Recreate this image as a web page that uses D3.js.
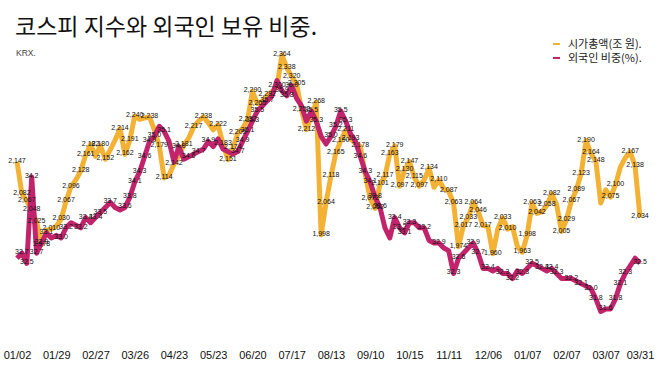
<!DOCTYPE html>
<html>
<head>
<meta charset="utf-8">
<script src="https://cdn.jsdelivr.net/npm/d3@7"></script>
<style>
  body { margin: 0; background: #fff; }
  .tick text { font-family: "Liberation Sans", Arial, sans-serif; font-size: 11px; fill: #111; }
  .lbl { font-family: "Liberation Sans", Arial, sans-serif; font-size: 7px; fill: #111; text-anchor: middle; }
</style>
</head>
<body>
<div class="chart"></div>
<script>
// tick labels (every 8th point)
var tickLabels = ["01/02", "01/29", "02/27", "03/26", "04/23", "05/23", "06/20", "07/17", "08/13",
  "09/10", "10/15", "11/11", "12/06", "01/07", "02/07", "03/07", "03/31"];
var tickIdx = [0, 8, 16, 24, 32, 40, 48, 56, 64, 72, 80, 88, 96, 104, 112, 120, 127];

// 시가총액 (조 원)
var marketCap = [
  2147, 2082, 2067, 2048, 2025, 1978, 2008, 2010, 2016, 2030,
  2067, 2096, 2110, 2128, 2161, 2182, 2158, 2180, 2152, 2171,
  2191, 2214, 2162, 2191, 2240, 2233, 2236, 2238, 2212, 2179,
  2114, 2120, 2142, 2160, 2181, 2195, 2217, 2230, 2238, 2226,
  2212, 2222, 2183, 2151, 2174, 2205, 2215, 2232, 2290, 2265,
  2270, 2282, 2290, 2300, 2364, 2338, 2320, 2305, 2252, 2212,
  2240, 2268, 1998, 2064, 2118, 2165, 2190, 2211, 2193, 2185,
  2178, 2120, 2072, 2052, 2101, 2117, 2163, 2179, 2097, 2130,
  2147, 2115, 2097, 2110, 2134, 2095, 2110, 2092, 2087, 2063,
  1974, 2017, 2033, 2064, 2046, 2017, 2015, 1960, 2010, 2033,
  2010, 2015, 1975, 1963, 1998, 2063, 2042, 2045, 2058, 2082,
  2060, 2005, 2029, 2067, 2089, 2123, 2190, 2164, 2148, 2063,
  2090, 2075, 2100, 2136, 2155, 2167, 2138, 2034
];

// 외국인 비중 (%)
var foreignShare = [
  32.6, 32.7, 32.5, 34.2, 32.7, 32.9, 33.1, 33.0, 33.05, 33.0,
  33.2, 33.3, 33.25, 33.2, 33.4, 33.3, 33.4, 33.5, 33.6, 33.7,
  33.6, 33.55, 33.6, 33.8, 34.1, 34.3, 34.6, 34.9, 35.0, 35.2,
  35.1, 34.9, 34.5, 34.8, 34.55, 34.6, 34.65, 34.7, 34.75, 34.9,
  34.8, 34.95, 34.75, 34.7, 34.65, 34.7, 34.9, 35.1, 35.3, 35.5,
  35.6, 35.7, 35.8, 36.1, 35.9, 35.8, 36.0, 35.75, 35.6, 35.3,
  35.5, 35.3, 35.0, 34.85, 35.0, 35.2, 35.5, 35.3, 35.05, 34.9,
  34.6, 34.3, 34.1, 33.8, 33.6, 33.2, 33.0, 33.4, 33.2, 33.1,
  33.3, 33.3, 33.2, 33.2, 32.95, 32.9, 32.9, 32.8, 32.75, 32.3,
  32.6, 32.7, 32.8, 32.9, 32.7, 32.4, 32.4, 32.35, 32.4, 32.3,
  32.3, 32.2, 32.35, 32.3, 32.4, 32.5, 32.45, 32.4, 32.35, 32.4,
  32.3, 32.2, 32.2, 32.2, 32.15, 32.1, 32.05, 32.0, 31.8, 31.55,
  31.6, 31.6, 31.8, 32.1, 32.3, 32.45, 32.6, 32.5
];

// points that carry a value label
var capLabelIdx = [0, 1, 2, 3, 4, 5, 7, 9, 10, 11, 13, 14, 15, 17, 18, 21, 22, 23, 24, 27,
  29, 30, 32, 34, 36, 38, 41, 42, 43, 44, 45, 47, 48, 49, 51, 53, 54, 55, 56, 57, 58, 59,
  61, 62, 63, 64, 65, 66, 67, 68, 70, 72, 73, 74, 75, 76, 77, 78, 79, 80, 81, 82, 84, 86,
  88, 89, 90, 91, 92, 93, 94, 95, 97, 99, 100, 103, 104, 105, 106, 108, 109, 111, 112, 113,
  114, 115, 116, 117, 118, 121, 122, 125, 126, 127];
var shareLabelIdx = [1, 2, 3, 4, 5, 6, 9, 10, 13, 14, 16, 17, 19, 22, 23, 24, 25, 26, 27, 28,
  30, 33, 35, 37, 39, 45, 46, 47, 48, 49, 51, 54, 55, 56, 60, 61, 64, 65, 66, 67, 70, 71,
  72, 73, 74, 77, 78, 79, 80, 83, 86, 89, 90, 93, 94, 96, 99, 101, 103, 105, 107, 109, 110,
  113, 115, 117, 118, 120, 122, 123, 124, 127];

var seriesNames = ["시가총액(조 원).", "외국인 비중(%)."];
var colors = ["#f4b235", "#c2246c"];

var svgWidth = 658;
var svgHeight = 370;

var svg = d3.select(".chart")
  .append("svg")
  .attr("width", svgWidth)
  .attr("height", svgHeight);

// scales
var xScale = d3.scaleLinear()
  .domain([0, marketCap.length - 1])
  .range([17, 640]);

var yCap = d3.scaleLinear()
  .domain([1998, 2364])
  .range([235, 55]);

var yShare = d3.scaleLinear()
  .domain([31.6, 35.5])
  .range([309, 111]);

// title
svg.append("text")
  .attr("x", 15)
  .attr("y", 35)
  .style("font-family", "'Noto Sans CJK KR', sans-serif")
  .style("font-size", "23px")
  .style("fill", "#111")
  .text("코스피 지수와 외국인 보유 비중.");

svg.append("text")
  .attr("x", 16)
  .attr("y", 56)
  .style("font-family", "'Liberation Sans', Arial, sans-serif")
  .style("font-size", "8.5px")
  .style("fill", "#444")
  .text("KRX.");

// x axis
var bottomAxis = d3.axisBottom(xScale)
  .tickValues(tickIdx)
  .tickFormat(function (d, i) { return tickLabels[i]; })
  .tickSize(0)
  .tickPadding(3);

var xAxis = svg.append("g")
  .attr("transform", "translate(0, 348)")
  .call(bottomAxis);
xAxis.select(".domain").remove();

// lines
var capLine = d3.line()
  .x(function (d, i) { return xScale(i); })
  .y(function (d) { return yCap(d); });

var shareLine = d3.line()
  .x(function (d, i) { return xScale(i); })
  .y(function (d) { return yShare(d); });

svg.append("path")
  .datum(marketCap)
  .attr("d", capLine)
  .attr("fill", "none")
  .attr("stroke", colors[0])
  .attr("stroke-width", 5)
  .attr("stroke-linejoin", "round");

svg.append("path")
  .datum(foreignShare)
  .attr("d", shareLine)
  .attr("fill", "none")
  .attr("stroke", colors[1])
  .attr("stroke-width", 5)
  .attr("stroke-linejoin", "round");

// value labels
var fmtCap = d3.format(",");
var fmtShare = d3.format(".1f");

svg.append("g").selectAll("text")
  .data(capLabelIdx)
  .enter()
  .append("text")
  .attr("class", "lbl")
  .attr("x", function (i) { return xScale(i); })
  .attr("y", function (i) { return yCap(marketCap[i]) + 1; })
  .text(function (i) { return fmtCap(marketCap[i]); });

svg.append("g").selectAll("text")
  .data(shareLabelIdx)
  .enter()
  .append("text")
  .attr("class", "lbl")
  .attr("x", function (i) { return xScale(i); })
  .attr("y", function (i) { return yShare(foreignShare[i]) + 1; })
  .text(function (i) { return fmtShare(foreignShare[i]); });

// legend
var legend = svg.append("g")
  .attr("transform", "translate(553, 44)");

seriesNames.forEach(function (name, k) {
  legend.append("line")
    .attr("x1", 0)
    .attr("x2", 7)
    .attr("y1", k * 14)
    .attr("y2", k * 14)
    .attr("stroke", colors[k])
    .attr("stroke-width", 2);
  legend.append("text")
    .attr("x", 15)
    .attr("y", k * 14 + 4)
    .style("font-family", "'Noto Sans CJK KR', sans-serif")
    .style("font-size", "11px")
    .style("fill", "#222")
    .text(name);
});
</script>
</body>
</html>
